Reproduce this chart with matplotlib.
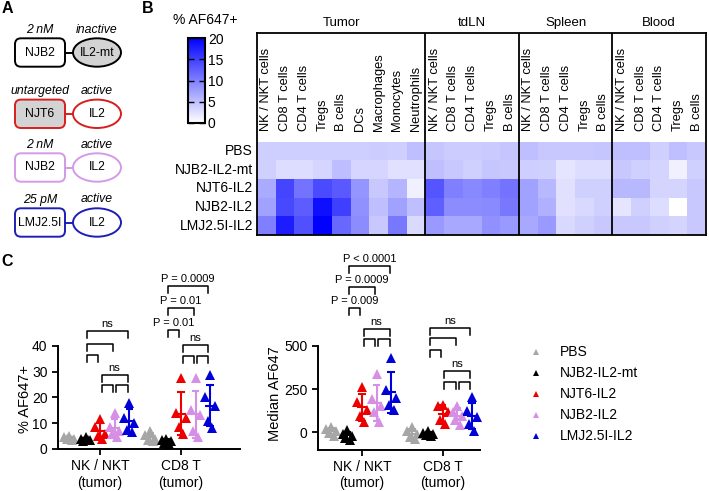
import numpy as np
import matplotlib
matplotlib.use('Agg')
from matplotlib import pyplot as plt
from matplotlib.colors import LinearSegmentedColormap
from matplotlib.patches import FancyBboxPatch, Ellipse

plt.rcParams['font.family'] = ['Liberation Sans', 'DejaVu Sans']

W, H = 709, 491

TREATMENTS = ['PBS', 'NJB2-IL2-mt', 'NJT6-IL2', 'NJB2-IL2', 'LMJ2.5I-IL2']
COLORS = ['#a6a6a6', '#000000', '#ee0000', '#d78fe6', '#0000d8']

# ---- panel A
A_LEFT_NOTE = ['2 nM', 'untargeted', '2 nM', '25 pM']
A_RIGHT_NOTE = ['inactive', 'active', 'active', 'active']
A_LEFT_NAME = ['NJB2', 'NJT6', 'NJB2', 'LMJ2.5I']
A_RIGHT_NAME = ['IL2-mt', 'IL2', 'IL2', 'IL2']
A_EDGES = ['#000000', '#d81e1e', '#d49ae6', '#1e1eb4']
A_LEFT_GREY = [False, True, False, False]
A_RIGHT_GREY = [True, False, False, False]

# ---- panel B (% AF647+), rows follow TREATMENTS
TISSUES = ['Tumor', 'tdLN', 'Spleen', 'Blood']
CELLS_TUMOR = ['NK / NKT cells', 'CD8 T cells', 'CD4 T cells', 'Tregs', 'B cells',
               'DCs', 'Macrophages', 'Monocytes', 'Neutrophils']
CELLS_OTHER = ['NK / NKT cells', 'CD8 T cells', 'CD4 T cells', 'Tregs', 'B cells']
heat_tumor = [[3.8, 3.8, 3.8, 3.8, 3.8, 3.8, 4.0, 3.8, 5.0],
              [3.7, 2.7, 2.7, 3.3, 5.2, 3.3, 3.3, 2.4, 2.4],
              [6.7, 14.6, 11.0, 14.2, 13.0, 8.3, 4.3, 5.8, 1.2],
              [7.4, 14.3, 12.8, 18.8, 15.0, 8.7, 5.0, 7.4, 5.0],
              [10.0, 17.8, 13.7, 20.0, 11.8, 9.0, 4.3, 10.6, 2.9]]
heat_tdln = [[4.5, 4.0, 4.0, 4.2, 4.5],
             [5.0, 4.3, 3.7, 4.5, 4.3],
             [13.3, 10.0, 9.3, 10.0, 11.0],
             [12.5, 9.0, 9.0, 9.2, 10.6],
             [8.0, 6.8, 6.8, 8.7, 8.0]]
heat_spleen = [[5.0, 4.3, 4.3, 4.3, 4.5],
               [3.8, 3.7, 2.1, 2.7, 2.7],
               [7.4, 5.6, 2.4, 3.7, 3.7],
               [7.4, 6.2, 2.4, 3.0, 3.7],
               [6.8, 8.0, 3.0, 3.7, 4.3]]
heat_blood = [[5.0, 5.0, 3.7, 5.0, 4.3],
              [4.3, 3.7, 3.4, 1.2, 3.7],
              [5.6, 5.6, 3.4, 3.4, 4.3],
              [2.1, 3.7, 2.7, 0.0, 4.3],
              [4.3, 4.3, 3.7, 3.4, 4.3]]

# ---- panel C, one list per treatment
GROUPS = ['NK / NKT\n(tumor)', 'CD8 T\n(tumor)']
pct_nk = [[5, 4.5, 4, 4, 3.5], [4.5, 4, 3.5, 3, 3.5], [11.5, 8.5, 6, 5, 4],
          [14, 8.5, 7, 6, 4.5], [18, 12, 10, 7.5, 6.5]]
pct_cd8 = [[7, 5.5, 4, 3.5, 3], [4, 3.5, 3, 2.5, 2], [27.5, 14, 12, 8.5, 6],
           [27.5, 15, 13, 7, 4.5], [28.5, 20, 16.5, 11, 8]]
med_nk = [[30, 20, 5, -5, -20], [15, -10, -20, -30, -45], [265, 175, 130, 95, 60],
          [335, 195, 150, 120, 60], [430, 245, 200, 160, 130]]
med_cd8 = [[30, 10, -10, -25, -40], [10, -5, -10, -15, -20], [160, 150, 115, 70, 50],
           [155, 120, 95, 70, 40], [205, 125, 90, 50, 10]]
# (group, from, to, height, label)
pct_brackets = [(0, 1, 2, 36.6, None), (0, 1, 3, 40.8, None), (0, 1, 4, 45.7, 'ns'),
                (0, 2, 3, 24.7, None), (0, 3, 4, 24.7, None), (0, 2, 4, 28.6, 'ns'),
                (1, 1, 2, 46.2, 'P = 0.01'), (1, 1, 3, 54.7, 'P = 0.01'), (1, 1, 4, 63.2, 'P = 0.0009'),
                (1, 2, 3, 36.2, None), (1, 3, 4, 36.2, None), (1, 2, 4, 40.2, 'ns')]
med_brackets = [(0, 1, 2, 718, 'P = 0.009'), (0, 1, 3, 840, 'P = 0.0009'), (0, 1, 4, 963, 'P < 0.0001'),
                (0, 2, 3, 538, None), (0, 3, 4, 538, None), (0, 2, 4, 598, 'ns'),
                (1, 1, 2, 477, None), (1, 1, 3, 544, None), (1, 1, 4, 604, 'ns'),
                (1, 2, 3, 293, None), (1, 3, 4, 293, None), (1, 2, 4, 353, 'ns')]

SUB_OFFSETS = [-0.38, -0.18, 0.0, 0.18, 0.36]
JITTER = [0.0, -0.06, 0.06, -0.03, 0.03]

fig = plt.figure(figsize=(W / 100, H / 100), dpi=100)


def px_axes(x0, y0, x1, y1):
    return fig.add_axes([x0 / W, 1 - y1 / H, (x1 - x0) / W, (y1 - y0) / H])


# overlay in pixel coords for panel A, letters, legend
ov = px_axes(0, 0, W, H)
ov.set_xlim(0, W)
ov.set_ylim(H, 0)
ov.axis('off')

for letter, (lx, ly) in zip('ABC', [(7, 8), (148, 8), (7, 262)]):
    ov.text(lx, ly, letter, fontsize=11.5, fontweight='bold', ha='center', va='center')

row_y = [52.5, 113.8, 167.5, 222.5]
for i, yc in enumerate(row_y):
    ec = A_EDGES[i]
    box = FancyBboxPatch((15, yc - 14.2), 50, 28.4, boxstyle='round,pad=0,rounding_size=6',
                         fc='#d3d3d3' if A_LEFT_GREY[i] else 'white', ec=ec, lw=1.4)
    ov.add_patch(box)
    ell = Ellipse((97, yc), 48, 28.4, fc='#d3d3d3' if A_RIGHT_GREY[i] else 'white', ec=ec, lw=1.4)
    ov.add_patch(ell)
    ov.plot([65, 73], [yc, yc], color=ec, lw=1.4)
    ov.text(40, yc, A_LEFT_NAME[i], ha='center', va='center', fontsize=8.8)
    ov.text(97, yc, A_RIGHT_NAME[i], ha='center', va='center', fontsize=8.8)
    ov.text(40, yc - 23, A_LEFT_NOTE[i], ha='center', va='center', fontsize=8.8, style='italic')
    ov.text(97, yc - 23, A_RIGHT_NOTE[i], ha='center', va='center', fontsize=8.8, style='italic')

# ---- panel B heatmap
values = np.hstack([np.array(heat_tumor), np.array(heat_tdln), np.array(heat_spleen), np.array(heat_blood)])
cells = CELLS_TUMOR + CELLS_OTHER * 3
cmap = LinearSegmentedColormap.from_list('wb', ['#ffffff', '#0000ff'])

hx = px_axes(257, 33, 706, 235)
mesh = hx.pcolormesh(np.arange(values.shape[1] + 1), np.arange(values.shape[0] + 1), values,
                     cmap=cmap, vmin=0, vmax=20)
row_h = (235 - 141.7) / 5
hx.set_ylim(5, 5 - 202 / row_h)
hx.set_xlim(0, values.shape[1])
hx.set_xticks([])
hx.set_yticks([])
for s in hx.spines.values():
    s.set_linewidth(1.3)
for xs in [9, 14, 19]:
    hx.axvline(xs, color='black', lw=1.3)
for j, c in enumerate(cells):
    hx.text(j + 0.5, -0.6, c, rotation=90, ha='center', va='bottom', fontsize=9.3)
for i, t in enumerate(TREATMENTS):
    hx.text(-0.22, i + 0.5, t, ha='right', va='center', fontsize=10)
bounds = [0, 9, 14, 19, 24]
for k, tissue in enumerate(TISSUES):
    hx.text((bounds[k] + bounds[k + 1]) / 2, 5 - 202 / row_h - 0.2, tissue,
            ha='center', va='bottom', fontsize=9.5)

cax = px_axes(188, 38, 205, 123)
cbar = fig.colorbar(mesh, cax=cax, ticks=[0, 5, 10, 15, 20])
cbar.outline.set_linewidth(1.5)
cax.tick_params(direction='in', length=4, width=1, left=True, right=True, labelsize=10, pad=2)
ov.text(205, 20, '% AF647+', ha='center', va='center', fontsize=10)


# ---- panel C
def dot_panel(ax, data, brackets, hook):
    for g, groups in enumerate(data):
        for k, vals in enumerate(groups):
            xc = g + SUB_OFFSETS[k]
            xs = xc + np.array(JITTER[:len(vals)])
            ax.plot(xs, vals, '^', color=COLORS[k], ms=7.5, mew=0, zorder=3, clip_on=False)
            m = np.mean(vals)
            sd = np.std(vals, ddof=1)
            kw = dict(color=COLORS[k], lw=1.5, zorder=4, solid_capstyle='butt')
            ax.plot([xc - 0.065, xc + 0.065], [m, m], **kw)
            ax.plot([xc, xc], [m - sd, m + sd], **kw)
            ax.plot([xc - 0.045, xc + 0.045], [m + sd, m + sd], **kw)
            ax.plot([xc - 0.045, xc + 0.045], [m - sd, m - sd], **kw)
    for g, a, b, y, label in brackets:
        xa = g + SUB_OFFSETS[a] + 0.02
        xb = g + SUB_OFFSETS[b] - 0.02
        ax.plot([xa, xa, xb, xb], [y - hook, y, y, y - hook], color='black', lw=1.1, clip_on=False)
        if label:
            ax.annotate(label, ((xa + xb) / 2, y), xytext=(0, 1.5), textcoords='offset points',
                        ha='center', va='bottom', fontsize=8)
    for side in ['top', 'right']:
        ax.spines[side].set_visible(False)
    for side in ['left', 'bottom']:
        ax.spines[side].set_linewidth(1.4)
    ax.set_xticks([0, 1])
    ax.set_xticklabels(GROUPS, fontsize=10)
    ax.tick_params(length=4, width=1.3, labelsize=10)
    ax.patch.set_alpha(0)


ax1 = px_axes(58, 255, 240, 449)
ax1.set_xlim(-0.52, 1.73)
ax1.set_ylim(0, 75.2)
dot_panel(ax1, [pct_nk, pct_cd8], pct_brackets, 2.7)
ax1.spines['left'].set_bounds(0, 40)
ax1.set_yticks([0, 10, 20, 30, 40])
ax1.set_ylabel('% AF647+', fontsize=10.5)
ax1.yaxis.set_label_coords(-0.145, 0.26)

ax2 = px_axes(318, 255, 480, 449.6)
ax2.set_xlim(-0.545, 1.46)
ax2.set_ylim(-100, 1027)
dot_panel(ax2, [med_nk, med_cd8], med_brackets, 40)
ax2.spines['left'].set_bounds(-100, 500)
ax2.set_yticks([0, 250, 500])
ax2.set_ylabel('Median AF647', fontsize=10.5)
ax2.yaxis.set_label_coords(-0.225, 0.29)

# legend
for k, t in enumerate(TREATMENTS):
    ly = 352 + k * 21
    ov.plot(536, ly, '^', color=COLORS[k], ms=5, mew=0)
    ov.text(560, ly, t, ha='left', va='center', fontsize=10)

fig.savefig('out.png', dpi=100)
